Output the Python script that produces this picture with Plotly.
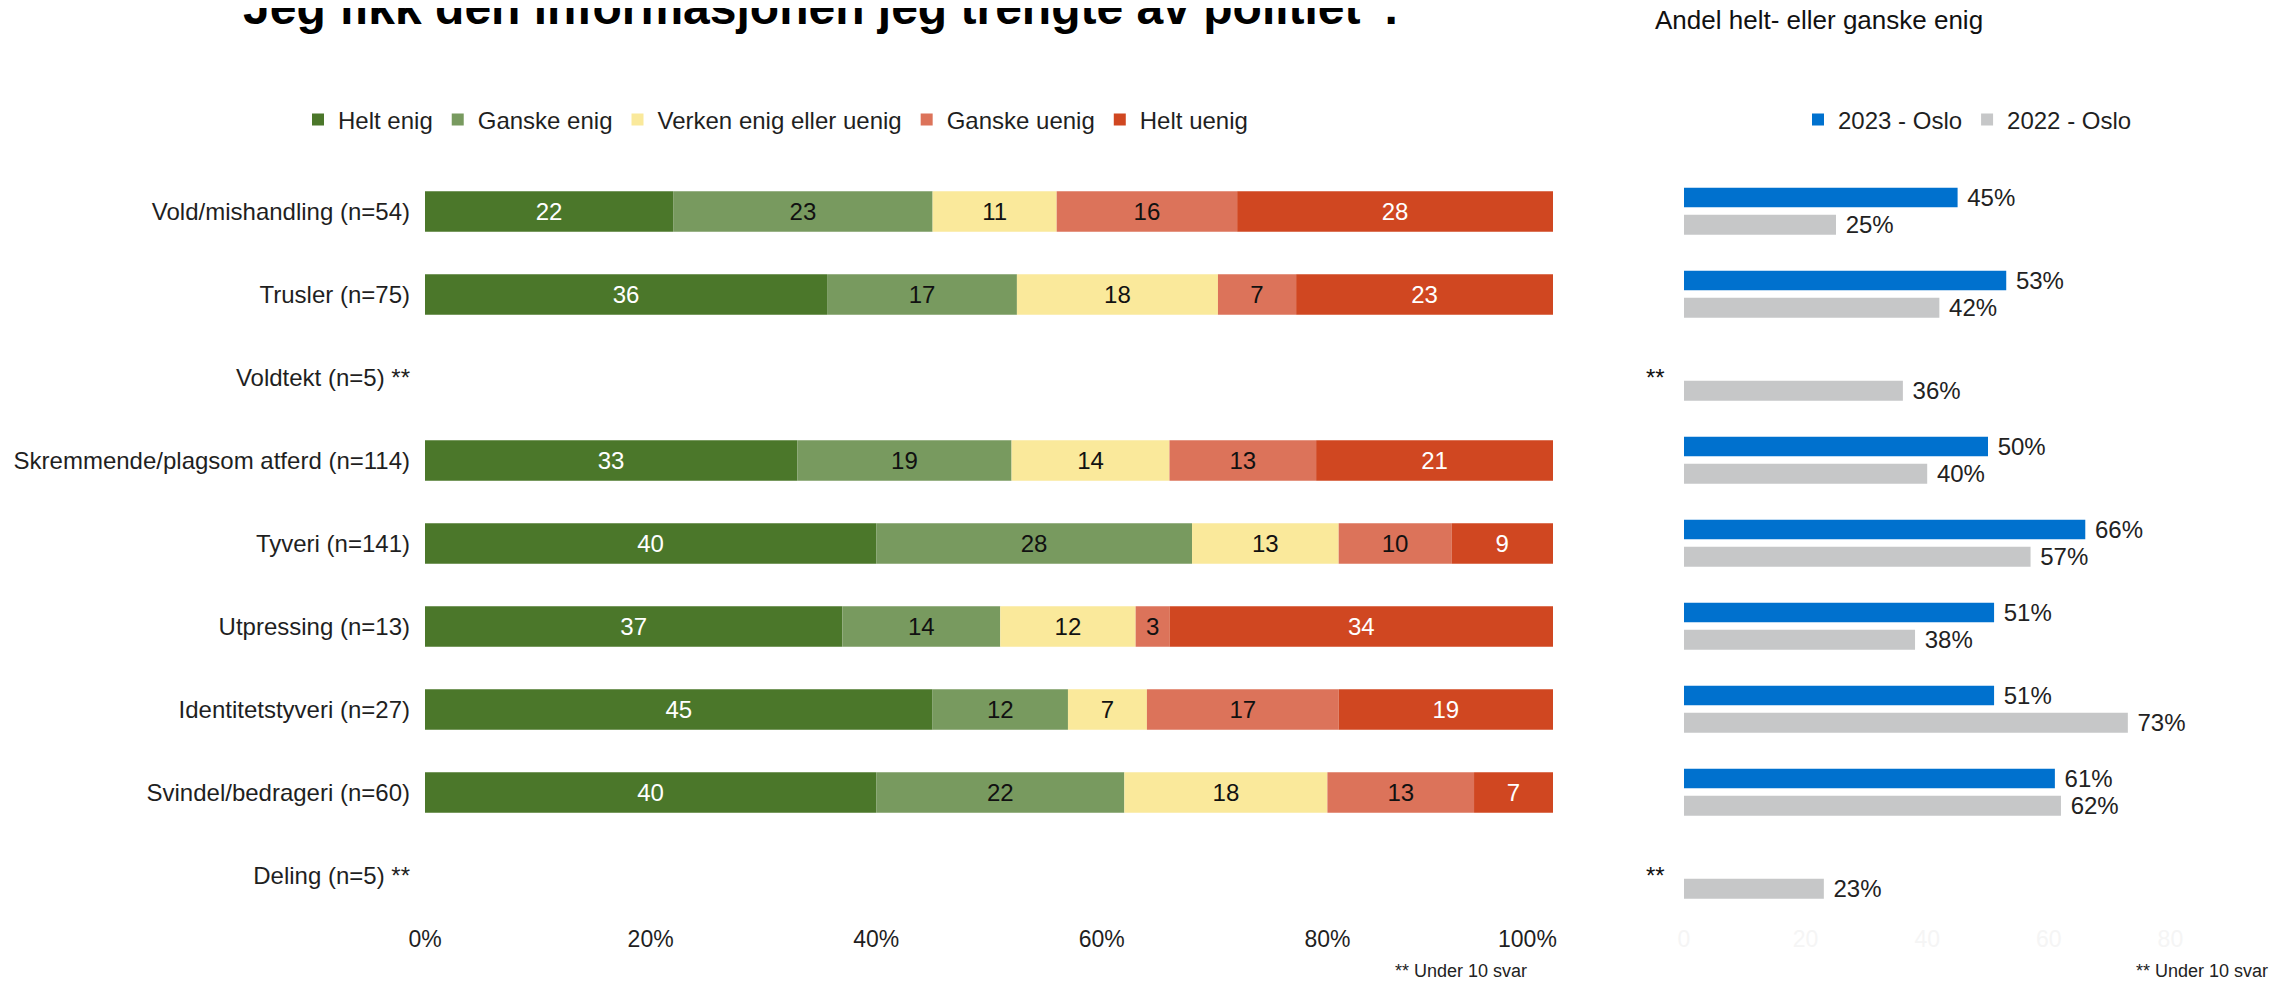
import numpy as np
import plotly.graph_objects as go

categories = ["Vold/mishandling (n=54)", "Trusler (n=75)", "Voldtekt (n=5) **",
              "Skremmende/plagsom atferd (n=114)", "Tyveri (n=141)", "Utpressing (n=13)",
              "Identitetstyveri (n=27)", "Svindel/bedrageri (n=60)", "Deling (n=5) **"]

helt_enig = [22, 36, None, 33, 40, 37, 45, 40, None]
ganske_enig = [23, 17, None, 19, 28, 14, 12, 22, None]
verken = [11, 18, None, 14, 13, 12, 7, 18, None]
ganske_uenig = [16, 7, None, 13, 10, 3, 17, 13, None]
helt_uenig = [28, 23, None, 21, 9, 34, 19, 7, None]

series_names = ["Helt enig", "Ganske enig", "Verken enig eller uenig", "Ganske uenig", "Helt uenig"]
series_vals = [helt_enig, ganske_enig, verken, ganske_uenig, helt_uenig]

oslo_2023 = [45, 53, None, 50, 66, 51, 51, 61, None]
oslo_2022 = [25, 42, 36, 40, 57, 38, 73, 62, 23]

x_ticks = [0, 20, 40, 60, 80, 100]
x_ticklabels_left = ["0%", "20%", "40%", "60%", "80%", "100%"]
x_ticklabels_right = ["0", "20", "40", "60", "80", "100"]

# styles
FONT = "Liberation Sans, Arial, sans-serif"
colors = ["#4B772A", "#789A5F", "#FAE99B", "#DC735A", "#D04721"]
text_colors = ["white", "#111111", "#111111", "#111111", "white"]
C2023 = "#0071CE"
C2022 = "#C6C7C8"
W, H = 2290, 983
OFF = 8  # page body margin
TOP, BOT = 170 - OFF, 917 - OFF
MT, MB = TOP, H - BOT
PH = H - MT - MB
NB = "\u00a0"


def py(p):
    return (BOT - (p - OFF)) / PH


def px(p):
    return (p - OFF) / W


# last tick label is kept inside the chart edge (as in the original)
left_ticktext = x_ticklabels_left[:-1] + [x_ticklabels_left[-1] + NB * 8]
right_ticktext = x_ticklabels_right[:-1] + [x_ticklabels_right[-1] + NB * 7]

# normalise to 100 %
arr = np.array([[np.nan if v is None else v for v in s] for s in series_vals], dtype=float)
totals = np.nansum(arr, axis=0)
norm = np.where(totals > 0, arr / np.where(totals > 0, totals, 1) * 100, np.nan)
bases = np.vstack([np.zeros(arr.shape[1]), np.cumsum(norm, axis=0)[:-1]])

fig = go.Figure()
for i, name in enumerate(series_names):
    xs = [None if np.isnan(v) else float(v) for v in norm[i]]
    bs = [None if np.isnan(v) else float(v) for v in bases[i]]
    txt = ["" if v is None else str(v) for v in series_vals[i]]
    fig.add_trace(go.Bar(
        name=name, y=categories, x=xs, base=bs, orientation="h",
        width=0.49, marker=dict(color=colors[i], line=dict(width=0)),
        text=txt, textposition="inside", insidetextanchor="middle",
        textangle=0, constraintext="none",
        textfont=dict(size=24, color=text_colors[i], family=FONT),
        xaxis="x", yaxis="y", legend="legend", hoverinfo="skip"))

lab23 = [None if v is None else NB + "%d%%" % v for v in oslo_2023]
lab22 = [None if v is None else NB + "%d%%" % v for v in oslo_2022]
fig.add_trace(go.Bar(
    name="2023 - Oslo", y=categories, x=oslo_2023, orientation="h",
    width=0.235, offset=-0.285, marker=dict(color=C2023, line=dict(width=0)),
    text=lab23, textposition="outside", constraintext="none", cliponaxis=False,
    textfont=dict(size=24, color="#222222", family=FONT),
    xaxis="x2", yaxis="y", legend="legend2", hoverinfo="skip"))
fig.add_trace(go.Bar(
    name="2022 - Oslo", y=categories, x=oslo_2022, orientation="h",
    width=0.24, offset=0.04, marker=dict(color=C2022, line=dict(width=0)),
    text=lab22, textposition="outside", constraintext="none", cliponaxis=False,
    textfont=dict(size=24, color="#222222", family=FONT),
    xaxis="x2", yaxis="y", legend="legend2", hoverinfo="skip"))

annotations = [
    dict(text="Jeg fikk den informasjonen jeg trengte av politiet\u201d.", xref="paper", yref="paper",
         x=px(1400), y=py(7.5), xanchor="right", yanchor="middle", showarrow=False,
         font=dict(size=48, family=FONT, color="#000000", weight="bold")),
    dict(text="Andel helt- eller ganske enig", xref="paper", yref="paper",
         x=px(1653), y=py(20), xanchor="left", yanchor="middle", showarrow=False,
         font=dict(size=26, family=FONT, color="#111111")),
    dict(text="** Under 10 svar", xref="paper", yref="paper",
         x=px(1393), y=py(971), xanchor="left", yanchor="middle", showarrow=False,
         font=dict(size=18, family=FONT, color="#222222")),
    dict(text="** Under 10 svar", xref="paper", yref="paper",
         x=px(2134), y=py(971), xanchor="left", yanchor="middle", showarrow=False,
         font=dict(size=18, family=FONT, color="#222222")),
]
for c, v in zip(categories, oslo_2023):
    if v is None:
        annotations.append(dict(text="**", xref="paper", yref="y", x=px(1667), y=c,
                                xanchor="right", yanchor="middle", showarrow=False,
                                font=dict(size=24, family=FONT, color="#111111")))

fig.update_layout(
    width=W, height=H, barmode="overlay",
    margin=dict(l=0, r=0, t=MT, b=MB, pad=0, autoexpand=False),
    paper_bgcolor="white", plot_bgcolor="white",
    font=dict(family=FONT, color="#1f1f1f", size=24),
    showlegend=True,
    xaxis=dict(domain=[px(425), px(1553)], range=[0, 100], tickmode="array",
               tickvals=x_ticks, ticktext=left_ticktext,
               showgrid=False, zeroline=False, showline=False,
               ticks="", tickfont=dict(size=23, color="#1f1f1f"), ticklabelstandoff=6,
               fixedrange=True),
    xaxis2=dict(domain=[px(1684), px(2292)], range=[0, 100], tickmode="array",
                tickvals=x_ticks, ticktext=right_ticktext,
                showgrid=False, zeroline=False, showline=False, ticks="",
                tickfont=dict(size=23, color="#f5f5f5"), ticklabelstandoff=6,
                anchor="y", fixedrange=True),
    yaxis=dict(type="category", categoryorder="array", categoryarray=categories,
               range=[8.5, -0.5], showgrid=False, zeroline=False, showline=False,
               ticks="", ticklabelstandoff=14, tickfont=dict(size=24, color="#1f1f1f"),
               anchor="x", fixedrange=True),
    legend=dict(orientation="h", x=px(298), y=py(120), xanchor="left", yanchor="middle",
                font=dict(size=24, color="#1f1f1f"), bgcolor="rgba(0,0,0,0)",
                traceorder="normal"),
    legend2=dict(orientation="h", x=px(1798), y=py(120), xanchor="left", yanchor="middle",
                 font=dict(size=24, color="#1f1f1f"), bgcolor="rgba(0,0,0,0)",
                 traceorder="normal"),
    annotations=annotations,
)

fig.write_html("out.html")
